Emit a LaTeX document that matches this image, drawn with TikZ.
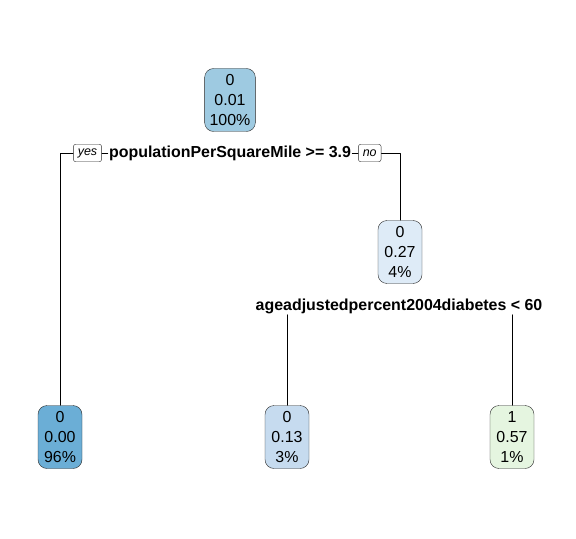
\documentclass[tikz,border=0pt]{standalone}
\usepackage{fontspec}
\setmainfont{Liberation Sans}
\usetikzlibrary{positioning}
\definecolor{blueA}{RGB}{158,202,225}
\definecolor{blueB}{RGB}{107,174,214}
\definecolor{blueC}{RGB}{198,219,239}
\definecolor{blueD}{RGB}{222,235,247}
\definecolor{greenA}{RGB}{229,245,224}
\tikzset{
  leaf/.style={draw=black!85, rounded corners=9bp, align=center, minimum width=44bp,
    minimum height=63bp, inner xsep=5bp, inner ysep=2bp, font=\fontsize{16}{20}\selectfont},
  split/.style={font=\bfseries\fontsize{16}{18}\selectfont, inner sep=1bp},
  tag/.style={draw=black!85, rounded corners=2.5bp, font=\itshape\fontsize{12.5}{13}\selectfont,
    inner xsep=4.5bp, inner ysep=0bp, minimum height=17.5bp}
}
\begin{document}
\begin{tikzpicture}[x=1bp, y=-1bp, line join=round, line cap=round]
		\useasboundingbox (0,0) rectangle (576,539);
		% root and first split
		\node[leaf, fill=blueA] (root) at (230,100) {0\\0.01\\100\%};
		\node[split] (s1) at (230,153) {populationPerSquareMile >= 3.9};
		\node[tag, left=6bp of s1] (yes) {yes};
		\node[tag, right=6bp of s1] (no) {no};
		% children
		\node[leaf, fill=blueB] (l1) at (60,437) {0\\0.00\\96\%};
		\node[leaf, fill=blueD] (n2) at (400,252) {0\\0.27\\4\%};
		\node[split] (s2) at (399,306) {ageadjustedpercent2004diabetes < 60};
		\node[leaf, fill=blueC] (l2) at (287,437) {0\\0.13\\3\%};
		\node[leaf, fill=greenA] (l3) at (512,437) {1\\0.57\\1\%};
		% connectors
		\draw (s1.west) -- (yes.east);
		\draw (yes.west) -| (l1.north);
		\draw (s1.east) -- (no.west);
		\draw (no.east) -| (n2.north);
		\draw (l2.north) -- (l2.north |- s2.south);
		\draw (l3.north) -- (l3.north |- s2.south);
\end{tikzpicture}
\end{document}
